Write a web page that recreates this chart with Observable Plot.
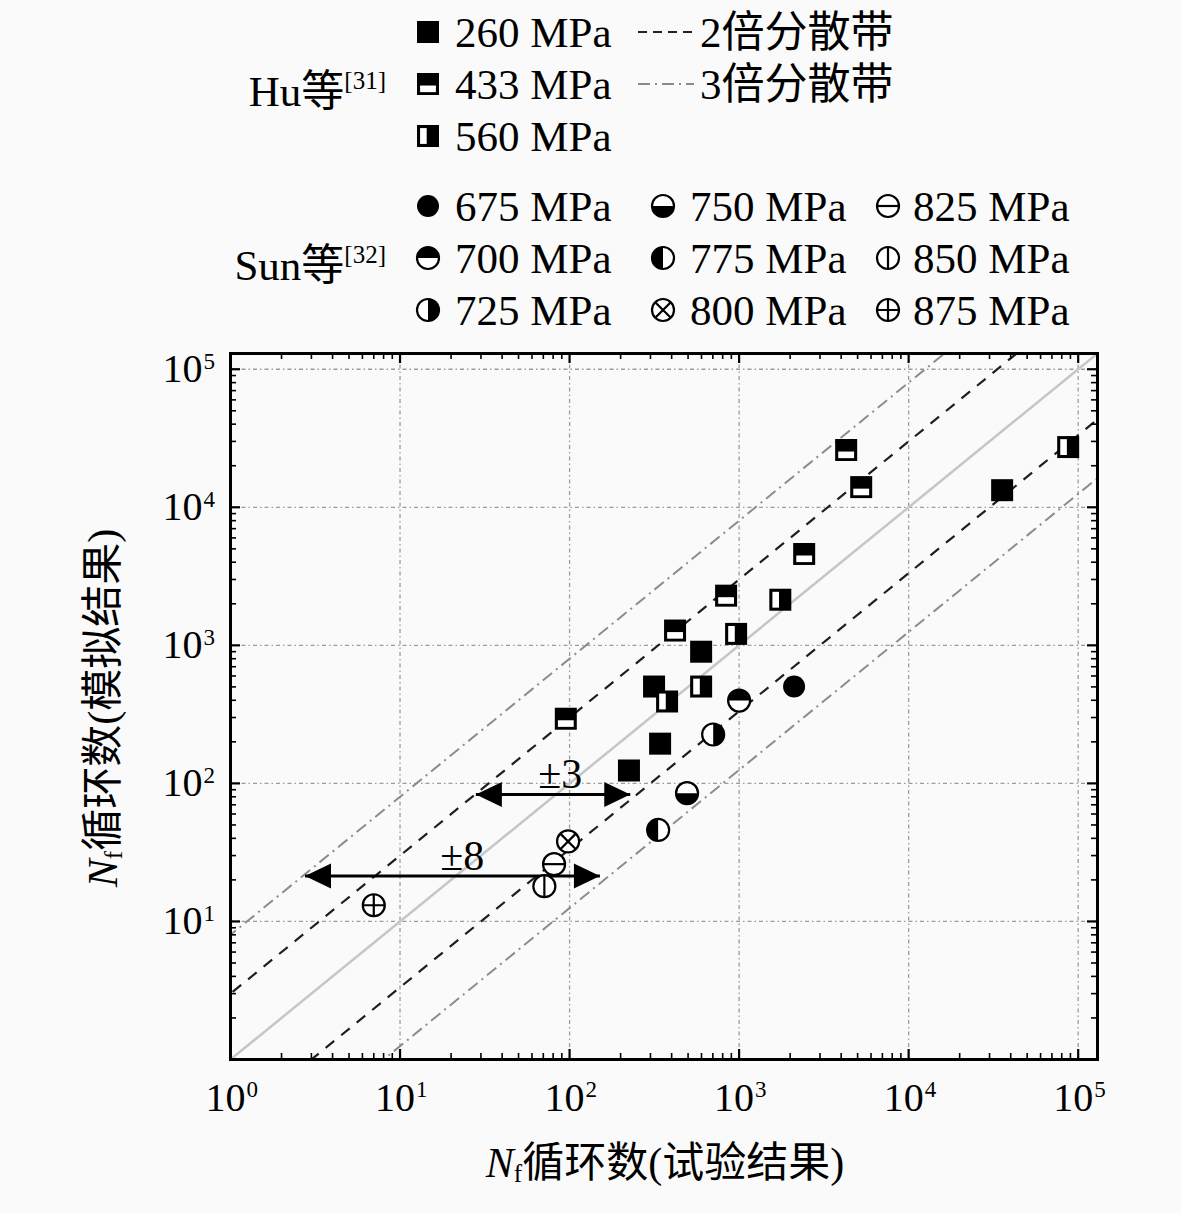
<!DOCTYPE html>
<html><head><meta charset="utf-8">
<script src="https://cdn.jsdelivr.net/npm/d3@7"></script>
<script src="https://cdn.jsdelivr.net/npm/@observablehq/plot@0.6"></script>
<style>
body{margin:0;background:#fafafa;width:1181px;height:1213px;overflow:hidden;}
#legend,#chart{width:1181px;display:block;}
svg{display:block;}
</style></head>
<body><div id="legend"></div><div id="chart"></div>
<script>
// ---------- data ----------
const hu260Exp = [35600, 597, 315, 342, 224];
const hu260Sim = [13300, 899, 503, 194, 124];
const hu433Exp = [4280, 5250, 2420, 838, 419, 95];
const hu433Sim = [26000, 14000, 4590, 2290, 1280, 294];
const hu560Exp = [87300, 1750, 960, 597, 376];
const hu560Sim = [27300, 2140, 1210, 503, 392];
const sunStress = ["675 MPa","700 MPa","725 MPa","750 MPa","775 MPa","800 MPa","825 MPa","850 MPa","875 MPa"];
const sunExp = [2110, 1000, 703, 493, 333, 98, 81, 71, 7.0];
const sunSim = [503, 398, 226, 85, 46, 38, 26, 18, 13.1];
const huStress = ["260 MPa","433 MPa","560 MPa"];
const bandFactors = [1, 3, 1/3, 8, 1/8];
const bandKinds = ["one","band2","band2","band3","band3"];
const bandLegend = ["2倍分散带","3倍分散带"];
const xTickDecades = [1, 10, 100, 1e3, 1e4, 1e5];
const yTickDecades = [10, 100, 1e3, 1e4, 1e5];
const minorMultipliers = [2,3,4,5,6,7,8,9];
const arrowLabels = ["±3", "±8"];
const arrowY = [83, 21.3];
const arrowFrom = [28, 2.75];
const arrowTo = [228, 151];
const arrowLabelX = [88, 23.3];
const arrowLabelY = [116, 29.5];
const groupNames = ["Hu等", "Sun等"];
const groupRefs = ["[31]", "[32]"];

// ---------- tables ----------
const hu = [
  ...hu260Exp.map((e,i)=>({type:"260 MPa", exp:e, sim:hu260Sim[i]})),
  ...hu433Exp.map((e,i)=>({type:"433 MPa", exp:e, sim:hu433Sim[i]})),
  ...hu560Exp.map((e,i)=>({type:"560 MPa", exp:e, sim:hu560Sim[i]}))
];
const sun = sunStress.map((s,i)=>({type:s, exp:sunExp[i], sim:sunSim[i]}));
const allPts = [...hu, ...sun];
const minorTicks = [];
for (const d of [1,10,100,1e3,1e4,1e5]) for (const m of minorMultipliers) if (d*m <= 1.3e5) minorTicks.push(d*m);

// ---------- symbols ----------
const mk = f => ({draw(c, size){ f(c, Math.sqrt(size/Math.PI)); }});
const SQ = mk((c,r)=>c.rect(-r,-r,2*r,2*r));
const SQ_LOW = mk((c,r)=>c.rect(-0.72*r, 0.14*r, 1.44*r, 0.6*r));
const SQ_LEFT = mk((c,r)=>c.rect(-0.72*r, -0.72*r, 0.6*r, 1.44*r));
const CIRC = mk((c,r)=>{c.moveTo(r,0); c.arc(0,0,r,0,2*Math.PI); c.closePath();});
const HALF = a0 => mk((c,r)=>{c.moveTo(r*Math.cos(a0), r*Math.sin(a0)); c.arc(0,0,r,a0,a0+Math.PI); c.closePath();});
const XL = mk((c,r)=>{const k=0.707*r; c.moveTo(-k,-k); c.lineTo(k,k); c.moveTo(k,-k); c.lineTo(-k,k);});
const HL = mk((c,r)=>{c.moveTo(-r,0); c.lineTo(r,0);});
const VL = mk((c,r)=>{c.moveTo(0,-r); c.lineTo(0,r);});
const PL = mk((c,r)=>{c.moveTo(-r,0); c.lineTo(r,0); c.moveTo(0,-r); c.lineTo(0,r);});
const HEAD = {draw(c){ c.moveTo(0,0); c.lineTo(-26,-12.5); c.lineTo(-26,12.5); c.closePath(); }};

const ring = {sym:CIRC, fill:"white", stroke:"black"};
const layers = {
  "260 MPa":[{sym:SQ, fill:"black"}],
  "433 MPa":[{sym:SQ, fill:"black"},{sym:SQ_LOW, fill:"white"}],
  "560 MPa":[{sym:SQ, fill:"black"},{sym:SQ_LEFT, fill:"white"}],
  "675 MPa":[{sym:CIRC, fill:"black"}],
  "700 MPa":[ring,{sym:HALF(Math.PI), fill:"black"}],
  "725 MPa":[ring,{sym:HALF(-Math.PI/2), fill:"black"}],
  "750 MPa":[ring,{sym:HALF(0), fill:"black"}],
  "775 MPa":[ring,{sym:HALF(Math.PI/2), fill:"black"}],
  "800 MPa":[ring,{sym:XL, fill:"none", stroke:"black"}],
  "825 MPa":[ring,{sym:HL, fill:"none", stroke:"black"}],
  "850 MPa":[ring,{sym:VL, fill:"none", stroke:"black"}],
  "875 MPa":[ring,{sym:PL, fill:"none", stroke:"black"}]
};
const FONT = "'Liberation Serif','Noto Sans CJK SC',serif";
const R = 11;

// ---------- legend ----------
const LH = 335;
const leg = d3.select("#legend").append("svg").attr("width",1181).attr("height",LH)
  .attr("font-family", FONT);
function drawMarker(g, type, x, y, r) {
  for (const L of layers[type]) {
    g.append("path").attr("transform",`translate(${x},${y})`)
      .attr("d", d3.symbol(L.sym, Math.PI*r*r)())
      .attr("fill", L.fill).attr("stroke", L.stroke || "none").attr("stroke-width", 2.2);
  }
}
const rowsY = [32, 84, 136, 206, 258, 310];
const colMarkerX = [428, 663, 888];
const colTextX = [455, 690, 913];
const legItems = [
  {type:huStress[0], col:0, row:0},{type:huStress[1], col:0, row:1},{type:huStress[2], col:0, row:2},
  ...sunStress.map((s,i)=>({type:s, col:Math.floor(i/3), row:3+(i%3)}))
];
for (const it of legItems) {
  drawMarker(leg, it.type, colMarkerX[it.col], rowsY[it.row], 11);
  leg.append("text").attr("x", colTextX[it.col]).attr("y", rowsY[it.row])
    .attr("dominant-baseline","central").attr("font-size",43).text(it.type);
}
// group labels
[[0, 91],[1, 265]].forEach(([i, y])=>{
  const t = leg.append("text").attr("x",386).attr("y",y).attr("text-anchor","end")
    .attr("dominant-baseline","central").attr("font-size",43);
  t.append("tspan").text(groupNames[i]);
  t.append("tspan").attr("font-size",25).attr("dy",-11).text(groupRefs[i]);
});
// band legend
[[0,32,"#222","9,6"],[1,84,"#8a8a8a","12,5,2,5"]].forEach(([i,y,col,dash])=>{
  leg.append("line").attr("x1",638).attr("x2",694).attr("y1",y).attr("y2",y)
    .attr("stroke",col).attr("stroke-width",2).attr("stroke-dasharray",dash);
  leg.append("text").attr("x",700).attr("y",y).attr("dominant-baseline","central")
    .attr("font-size",43).text(bandLegend[i]);
});

// ---------- plot ----------
const W = 1181, H = 1213 - LH;
const mT = 18, mL = 230, mR = 84, mB = 154;
const fH = H - mT - mB, fW = W - mL - mR;
const bands = bandFactors.map((k,i)=>({k, kind:bandKinds[i]}));
const bandStyle = {
  one:{stroke:"#c6c6c6", strokeWidth:2.5},
  band2:{stroke:"#1e1e1e", strokeWidth:2.2, strokeDasharray:"11,9"},
  band3:{stroke:"#8c8c8c", strokeWidth:2, strokeDasharray:"12,5,2,5"}
};
const ticks = (vals, len, w) => [
  Plot.ruleX(vals, {x:d=>d, insetTop: fH-len, stroke:"black", strokeWidth:w}),
  Plot.ruleX(vals, {x:d=>d, insetBottom: fH-len, stroke:"black", strokeWidth:w}),
  Plot.ruleY(vals, {y:d=>d, insetRight: fW-len, stroke:"black", strokeWidth:w}),
  Plot.ruleY(vals, {y:d=>d, insetLeft: fW-len, stroke:"black", strokeWidth:w})
];
const idx = arrowLabels.map((_,i)=>i);
const pointMarks = [];
for (const type of Object.keys(layers)) {
  const data = allPts.filter(d=>d.type===type);
  for (const L of layers[type]) {
    pointMarks.push(Plot.dot(data, {x:"exp", y:"sim", symbol:L.sym, r:R,
      fill:L.fill, stroke:L.stroke || "none", strokeWidth:2.2}));
  }
}
const chart = Plot.plot({
  width:W, height:H, marginTop:mT, marginLeft:mL, marginRight:mR, marginBottom:mB,
  x:{type:"log", domain:[1, 1.3e5], axis:null},
  y:{type:"log", domain:[1, 1.3e5], axis:null},
  style:{background:"transparent", fontFamily:FONT, color:"black"},
  marks:[
    Plot.ruleX(xTickDecades.slice(1), {x:d=>d, stroke:"#9c9c9c", strokeWidth:1.3, strokeDasharray:"4,3,1.5,3"}),
    Plot.ruleY(yTickDecades, {y:d=>d, stroke:"#9c9c9c", strokeWidth:1.3, strokeDasharray:"4,3,1.5,3"}),
    ...Object.keys(bandStyle).map(kind => Plot.link(bands.filter(b=>b.kind===kind), {
      x1:()=>0.01, y1:b=>b.k*0.01, x2:()=>1e7, y2:b=>b.k*1e7, clip:true, ...bandStyle[kind]})),
    ...ticks(xTickDecades.concat(), 10, 2.2),
    ...ticks(minorTicks, 6, 1.6),
    Plot.frame({stroke:"black", strokeWidth:3}),
    Plot.text(xTickDecades, {x:d=>d, text:()=>"10", frameAnchor:"bottom", dy:39, dx:15,
      textAnchor:"end", lineAnchor:"middle", fontSize:40, fill:"black"}),
    Plot.text(xTickDecades, {x:d=>d, text:d=>String(Math.round(Math.log10(d))), frameAnchor:"bottom",
      dy:30, dx:16, textAnchor:"start", lineAnchor:"middle", fontSize:23, fill:"black"}),
    Plot.text(yTickDecades, {y:d=>d, text:()=>"10", frameAnchor:"left", dx:-28,
      textAnchor:"end", lineAnchor:"middle", fontSize:40, fill:"black"}),
    Plot.text(yTickDecades, {y:d=>d, text:d=>String(Math.round(Math.log10(d))), frameAnchor:"left",
      dx:-27, dy:-8, textAnchor:"start", lineAnchor:"middle", fontSize:23, fill:"black"}),
    Plot.link(idx, {x1:i=>arrowFrom[i], x2:i=>arrowTo[i], y1:i=>arrowY[i], y2:i=>arrowY[i], stroke:"black", strokeWidth:3}),
    Plot.dot(idx, {x:i=>arrowTo[i], y:i=>arrowY[i], symbol:HEAD, r:10, fill:"black", stroke:"none"}),
    Plot.dot(idx, {x:i=>arrowFrom[i], y:i=>arrowY[i], symbol:HEAD, r:10, rotate:180, fill:"black", stroke:"none"}),
    Plot.text(idx, {x:i=>arrowLabelX[i], y:i=>arrowLabelY[i], text:i=>arrowLabels[i], fontSize:42, fill:"black", lineAnchor:"middle"}),
    ...pointMarks
  ]
});
document.getElementById("chart").appendChild(chart);

function axisLabel(x, y, rot, rest) {
  const t = d3.select(chart).append("text")
    .attr("transform", `translate(${x},${y}) rotate(${rot})`)
    .attr("text-anchor","middle").attr("dominant-baseline","central")
    .attr("font-family", FONT).attr("font-size", 42).attr("fill","black");
  t.append("tspan").attr("font-style","italic").text("N");
  t.append("tspan").attr("font-size",25).attr("dy",10).text("f");
  t.append("tspan").attr("dy",-10).text(rest);
}
axisLabel(665, 1163 - LH, 0, "循环数(试验结果)");
axisLabel(103, 708 - LH, -90, "循环数(模拟结果)");
</script></body></html>
